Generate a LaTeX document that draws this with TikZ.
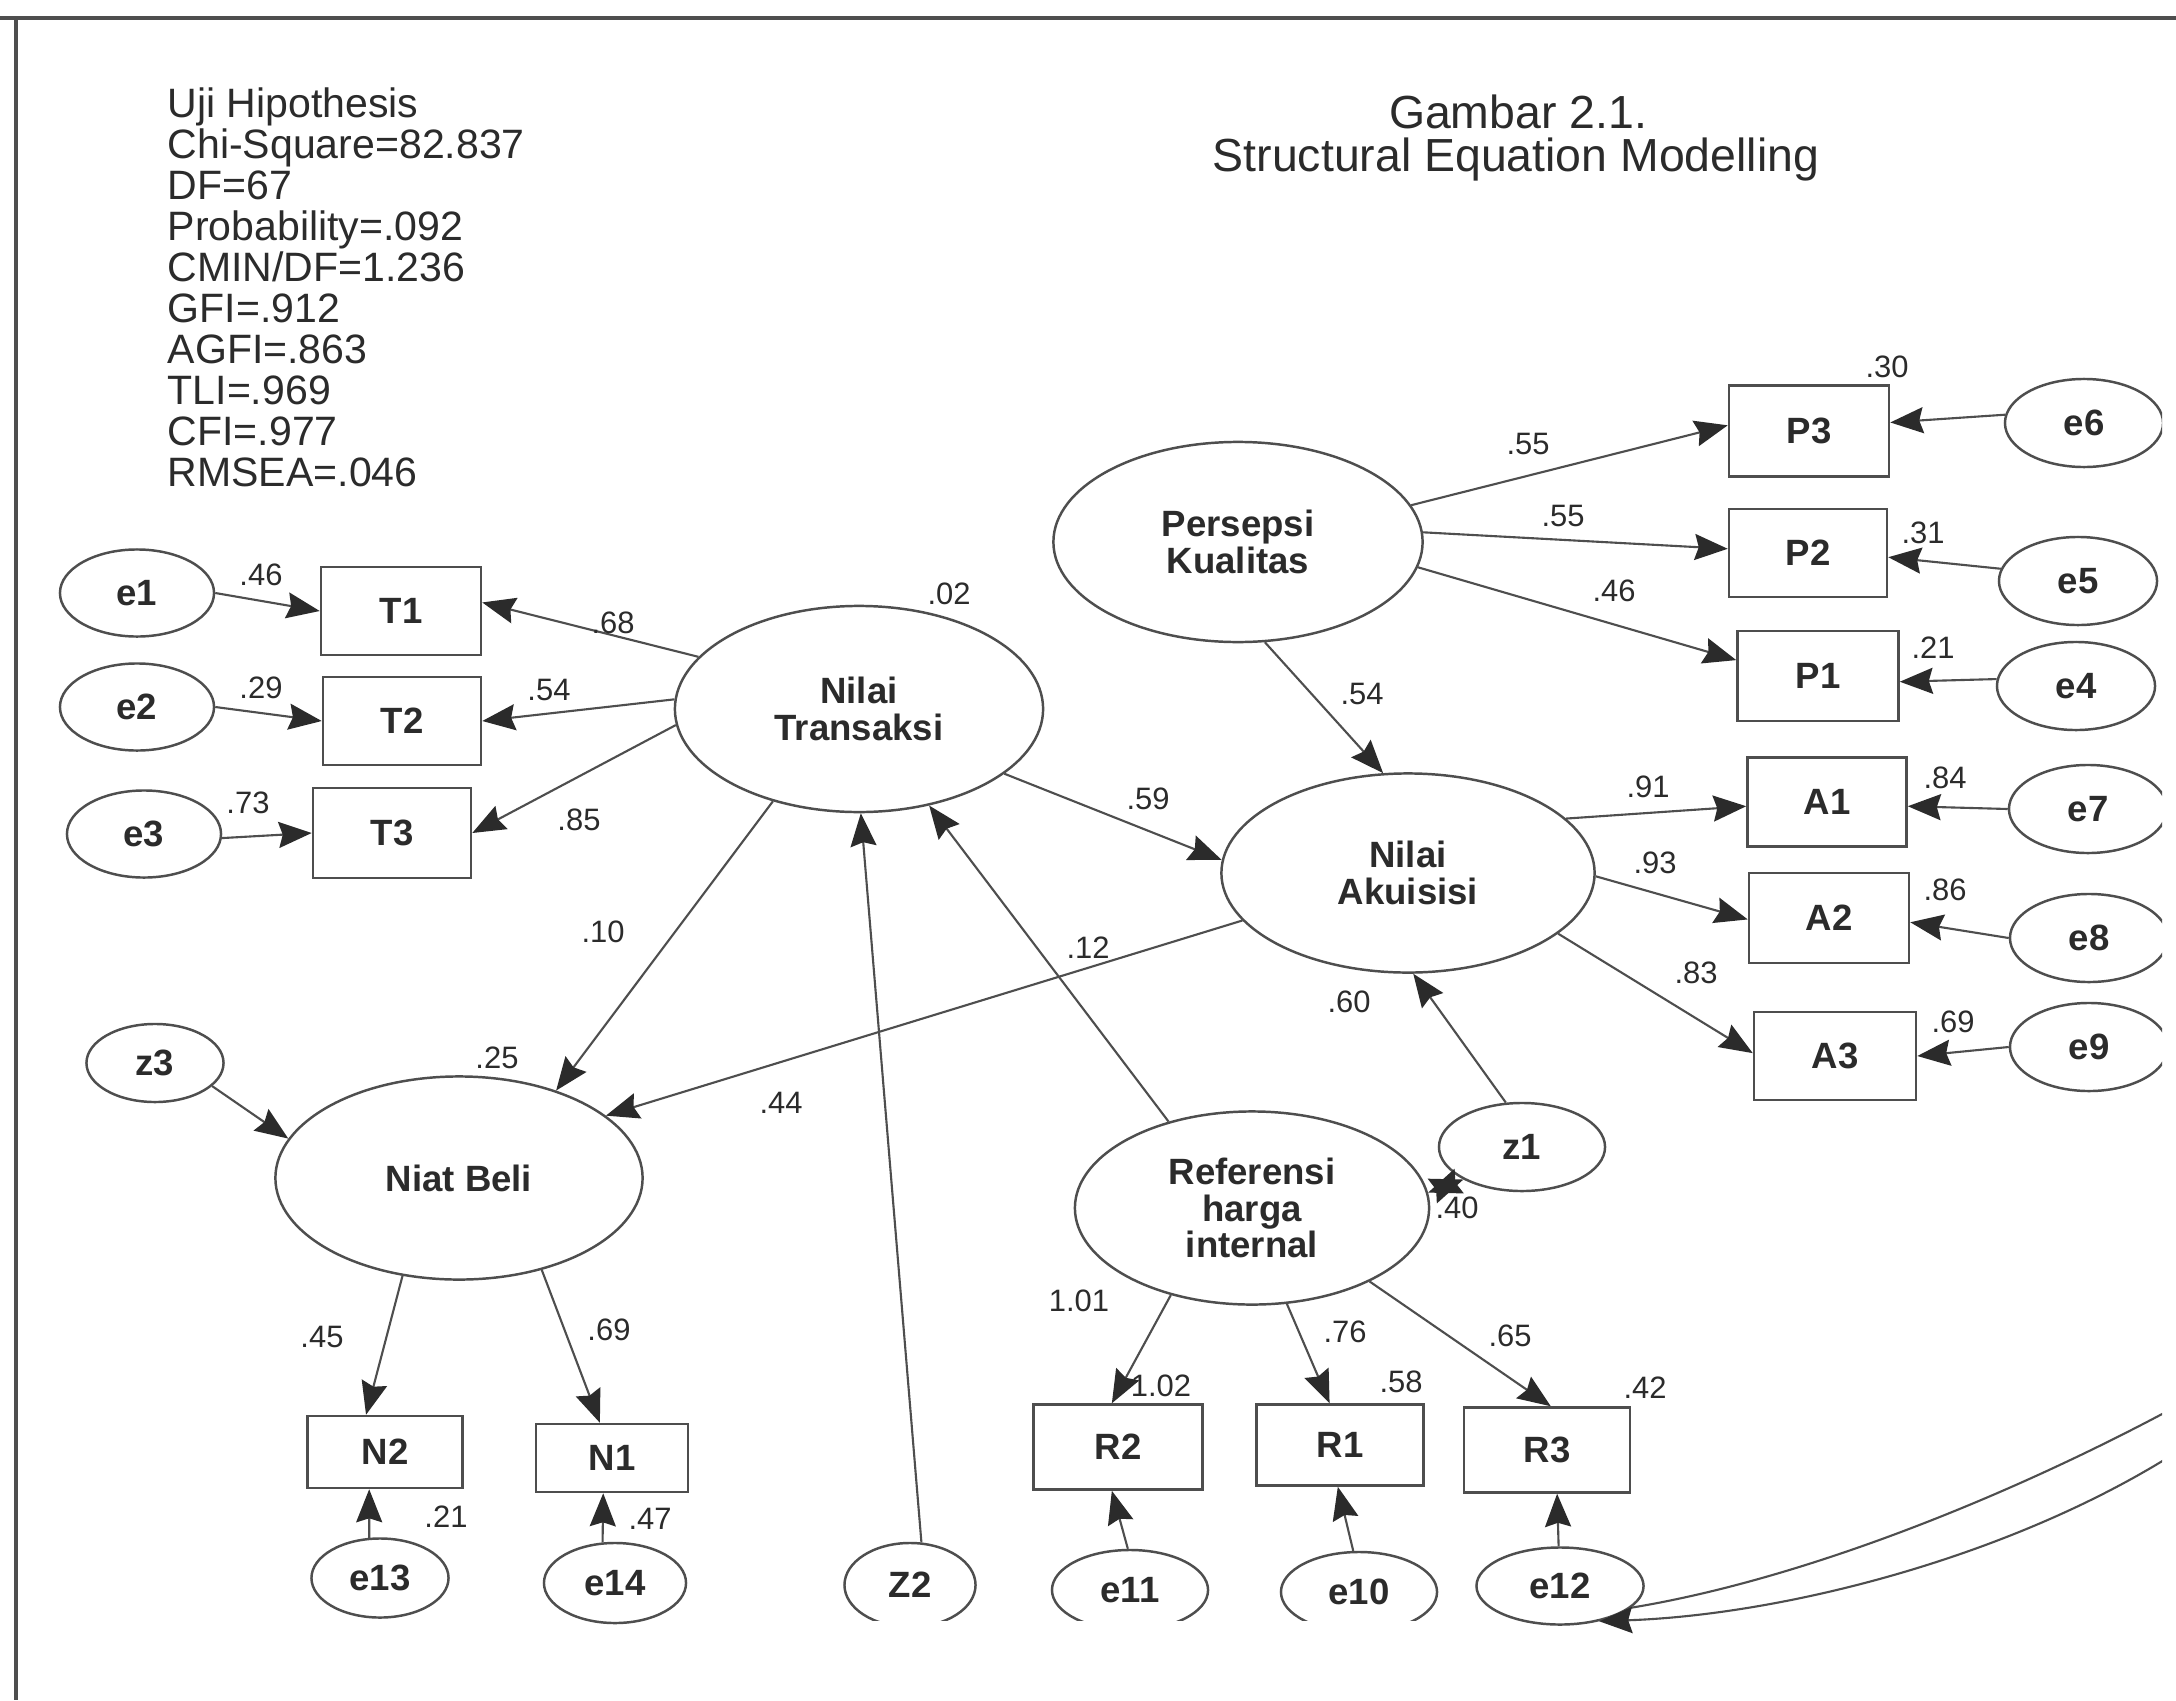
\documentclass[tikz,border=0pt]{standalone}
\usepackage{fontspec}
\setmainfont{Liberation Sans}
\usetikzlibrary{shapes.geometric,arrows.meta}
\definecolor{lc}{HTML}{4E4E4E}
\definecolor{tc}{HTML}{2B2B2B}
\newcommand{\mynodefont}{\fontsize{10.4}{10.3}\selectfont\bfseries}
\newcommand{\mynumfont}{\fontsize{8.8}{9}\selectfont}
\newcommand{\myhdrfont}{\fontsize{11.67}{11.6}\selectfont}
\newcommand{\myttlfont}{\fontsize{13.2}{13}\selectfont}
\tikzset{
  lat/.style={ellipse, draw=lc, line width=0.7pt, inner sep=0pt, align=center, font=\mynodefont, text=tc},
  obs/.style={rectangle, draw=lc, line width=0.7pt, inner sep=0pt, font=\mynodefont, text=tc},
  num/.style={font=\mynumfont, text=tc, inner sep=0pt},
  hdr/.style={font=\myhdrfont, text=tc, inner sep=0pt, anchor=base west},
  ttl/.style={font=\myttlfont, text=tc, inner sep=0pt, anchor=base},
  tipx/.tip={Stealth[length=3.3mm,width=2.6mm,inset=0.4mm,fill=tc,color=tc]},
  pth/.style={draw=lc, line width=0.6pt, -tipx},
  arcline/.style={draw=lc, line width=0.6pt},
}
\begin{document}
\begin{tikzpicture}[x=0.01cm, y=-0.01cm]
\useasboundingbox (0,0) rectangle (2176,1700);
\fill[white] (0,0) rectangle (2176,1700);
% frame
\draw[lc, line width=1.1pt] (0,18) -- (2176,18);
\draw[lc, line width=0.9pt] (16,18) -- (16,1700);

\begin{scope}
\clip (0,0) rectangle (2162,1700);

% header text
\node[hdr] (h1) at (167,118) {Uji Hipothesis};
\node[hdr] (h2) at (167,158.9) {Chi-Square=82.837};
\node[hdr] (h3) at (167,199.8) {DF=67};
\node[hdr] (h4) at (167,240.7) {Probability=.092};
\node[hdr] (h5) at (167,281.6) {CMIN/DF=1.236};
\node[hdr] (h6) at (167,322.5) {GFI=.912};
\node[hdr] (h7) at (167,363.4) {AGFI=.863};
\node[hdr] (h8) at (167,404.3) {TLI=.969};
\node[hdr] (h9) at (167,445.2) {CFI=.977};
\node[hdr] (h10) at (167,486.1) {RMSEA=.046};

\node[ttl] (t1) at (1518,129) {Gambar 2.1.};
\node[ttl] (t2) at (1516,172) {Structural Equation Modelling};

% latent variables
\node[lat, minimum width=3.69cm, minimum height=2.00cm] (PK) at (1238,542) {Persepsi\\Kualitas};
\node[lat, minimum width=3.68cm, minimum height=2.06cm] (NT) at (859,709) {Nilai\\Transaksi};
\node[lat, minimum width=3.73cm, minimum height=1.99cm] (NA) at (1408,873) {Nilai\\Akuisisi};
\node[lat, minimum width=3.67cm, minimum height=2.03cm] (NB) at (459,1178) {Niat Beli};
\node[lat, minimum width=3.54cm, minimum height=1.93cm] (RH) at (1252,1208) {Referensi\\harga\\internal};

% error / disturbance terms
\node[lat, minimum width=1.54cm, minimum height=0.87cm] (e1) at (137,593) {e1};
\node[lat, minimum width=1.54cm, minimum height=0.87cm] (e2) at (137,707) {e2};
\node[lat, minimum width=1.54cm, minimum height=0.87cm] (e3) at (144,834) {e3};
\node[lat, minimum width=1.58cm, minimum height=0.88cm] (e6) at (2084,423) {e6};
\node[lat, minimum width=1.58cm, minimum height=0.88cm] (e5) at (2078,581) {e5};
\node[lat, minimum width=1.58cm, minimum height=0.88cm] (e4) at (2076,686) {e4};
\node[lat, minimum width=1.58cm, minimum height=0.88cm] (e7) at (2088,809) {e7};
\node[lat, minimum width=1.58cm, minimum height=0.88cm] (e8) at (2089,938) {e8};
\node[lat, minimum width=1.58cm, minimum height=0.88cm] (e9) at (2089,1047) {e9};
\node[lat, minimum width=1.66cm, minimum height=0.88cm] (z1) at (1522,1147) {z1};
\node[lat, minimum width=1.37cm, minimum height=0.78cm] (z3) at (155,1063) {z3};
\node[lat, minimum width=1.37cm, minimum height=0.79cm] (e13) at (380,1578) {e13};
\node[lat, minimum width=1.42cm, minimum height=0.80cm] (e14) at (615,1583) {e14};
\node[lat, minimum width=1.31cm, minimum height=0.84cm] (Z2) at (910,1585) {Z2};
\node[lat, minimum width=1.56cm, minimum height=0.80cm] (e11) at (1130,1590) {e11};
\node[lat, minimum width=1.56cm, minimum height=0.80cm] (e10) at (1359,1592) {e10};
\node[lat, minimum width=1.67cm, minimum height=0.77cm] (e12) at (1560,1586) {e12};
% scan gap under the bottom ovals
\fill[white] (840,1621) rectangle (1450,1650);

% observed variables
\node[obs, minimum width=1.60cm, minimum height=0.88cm] (T1) at (401,611) {T1};
\node[obs, minimum width=1.58cm, minimum height=0.88cm] (T2) at (402,721) {T2};
\node[obs, minimum width=1.58cm, minimum height=0.90cm] (T3) at (392,833) {T3};
\node[obs, minimum width=1.60cm, minimum height=0.91cm] (P3) at (1809,431) {P3};
\node[obs, minimum width=1.58cm, minimum height=0.88cm] (P2) at (1808,553) {P2};
\node[obs, minimum width=1.61cm, minimum height=0.90cm] (P1) at (1818,676) {P1};
\node[obs, minimum width=1.59cm, minimum height=0.89cm] (A1) at (1827,802) {A1};
\node[obs, minimum width=1.60cm, minimum height=0.90cm] (A2) at (1829,918) {A2};
\node[obs, minimum width=1.62cm, minimum height=0.88cm] (A3) at (1835,1056) {A3};
\node[obs, minimum width=1.55cm, minimum height=0.72cm] (N2) at (385,1452) {N2};
\node[obs, minimum width=1.52cm, minimum height=0.68cm] (N1) at (612,1458) {N1};
\node[obs, minimum width=1.69cm, minimum height=0.85cm] (R2) at (1118,1447) {R2};
\node[obs, minimum width=1.67cm, minimum height=0.81cm] (R1) at (1340,1445) {R1};
\node[obs, minimum width=1.66cm, minimum height=0.85cm] (R3) at (1547,1450) {R3};

% paths
\draw[pth] (NT.162) -- (T1.6);
\draw[pth] (NT.177) -- (T2.east);
\draw[pth] (NT.185) -- (T3.east);
\draw[pth] (e1.east) -- (T1.west);
\draw[pth] (e2.east) -- (T2.west);
\draw[pth] (e3.357) -- (T3.west);
\draw[pth] (PK.12) -- (P3.176);
\draw[pth] (PK.3) -- (P2.177);
\draw[pth] (PK.352) -- (P1.169);
\draw[pth] (e6.174) -- (P3.6);
\draw[pth] (e5.171) -- (P2.357);
\draw[pth] (e4.175) -- (P1.356);
\draw[pth] (NA.19) -- (A1.183);
\draw[pth] (NA.359) -- (A2.181);
\draw[pth] (NA.338) -- (A3.178);
\draw[pth] (e7.west) -- (A1.357);
\draw[pth] (e8.west) -- (A2.357);
\draw[pth] (e9.west) -- (A3.east);
\draw[pth] (PK.285) -- (NA.104);
\draw[pth] (NT.336) -- (NA.176);
\draw[pth] (NA.196) -- (NB.23);
\draw[pth] (NT.227) -- (NB.42);
\draw[pth] (RH.134) -- (NT.306);
\draw[pth] (Z2.75) -- (NT.271);
\draw[pth] (z1.110) -- (NA.273);
\draw[pth] (z3.338) -- (NB.167);
\draw[pth] (NB.240) -- (N2.117);
\draw[pth] (NB.312) -- (N1.109);
\draw[pth] (e13.105) -- (N2.247);
\draw[pth] (e14.107) -- (N1.256);
\draw[pth] (RH.227) -- (R2.98);
\draw[pth] (RH.290) -- (R1.104);
\draw[pth] (RH.328) -- (R3.85);
\draw[pth] (e11.93) -- (R2.262);
\draw[pth] (e10.98) -- (R1.267);
\draw[pth] (e12.92) -- (R3.283);
\draw[pth, tipx-tipx] (RH.5) -- (z1.209);

% covariance arcs leaving the picture
\coordinate (cu1) at (2164,1413);
\coordinate (cu2) at (2164,1460);
\draw[arcline] (e12.343) .. controls (1800,1580) and (2000,1500) .. (cu1);
\draw[pth] (cu2) .. controls (2000,1560) and (1780,1615) .. (e12.318);

% coefficient labels
\node[num] (n1) at (261,575) {.46};
\node[num] (n2) at (261,688) {.29};
\node[num] (n3) at (248,803) {.73};
\node[num] (n4) at (613,623) {.68};
\node[num] (n5) at (549,690) {.54};
\node[num] (n6) at (579,820) {.85};
\node[num] (n7) at (949,594) {.02};
\node[num] (n8) at (1528,444) {.55};
\node[num] (n9) at (1563,516) {.55};
\node[num] (n10) at (1614,591) {.46};
\node[num] (n11) at (1887,367) {.30};
\node[num] (n12) at (1923,533) {.31};
\node[num] (n13) at (1933,648) {.21};
\node[num] (n14) at (1362,694) {.54};
\node[num] (n15) at (1148,799) {.59};
\node[num] (n16) at (1648,787) {.91};
\node[num] (n17) at (1655,863) {.93};
\node[num] (n18) at (1696,973) {.83};
\node[num] (n19) at (1945,778) {.84};
\node[num] (n20) at (1945,890) {.86};
\node[num] (n21) at (1953,1022) {.69};
\node[num] (n22) at (603,932) {.10};
\node[num] (n23) at (1088,948) {.12};
\node[num] (n24) at (1349,1002) {.60};
\node[num] (n25) at (781,1103) {.44};
\node[num] (n26) at (497,1058) {.25};
\node[num] (n27) at (322,1337) {.45};
\node[num] (n28) at (609,1330) {.69};
\node[num] (n29) at (446,1517) {.21};
\node[num] (n30) at (650,1519) {.47};
\node[num] (n31) at (1079,1301) {1.01};
\node[num] (n32) at (1161,1386) {1.02};
\node[num] (n33) at (1345,1332) {.76};
\node[num] (n34) at (1401,1382) {.58};
\node[num] (n35) at (1510,1336) {.65};
\node[num] (n36) at (1645,1388) {.42};
\node[num] (n37) at (1457,1208) {.40};
\end{scope}
\end{tikzpicture}
\end{document}
